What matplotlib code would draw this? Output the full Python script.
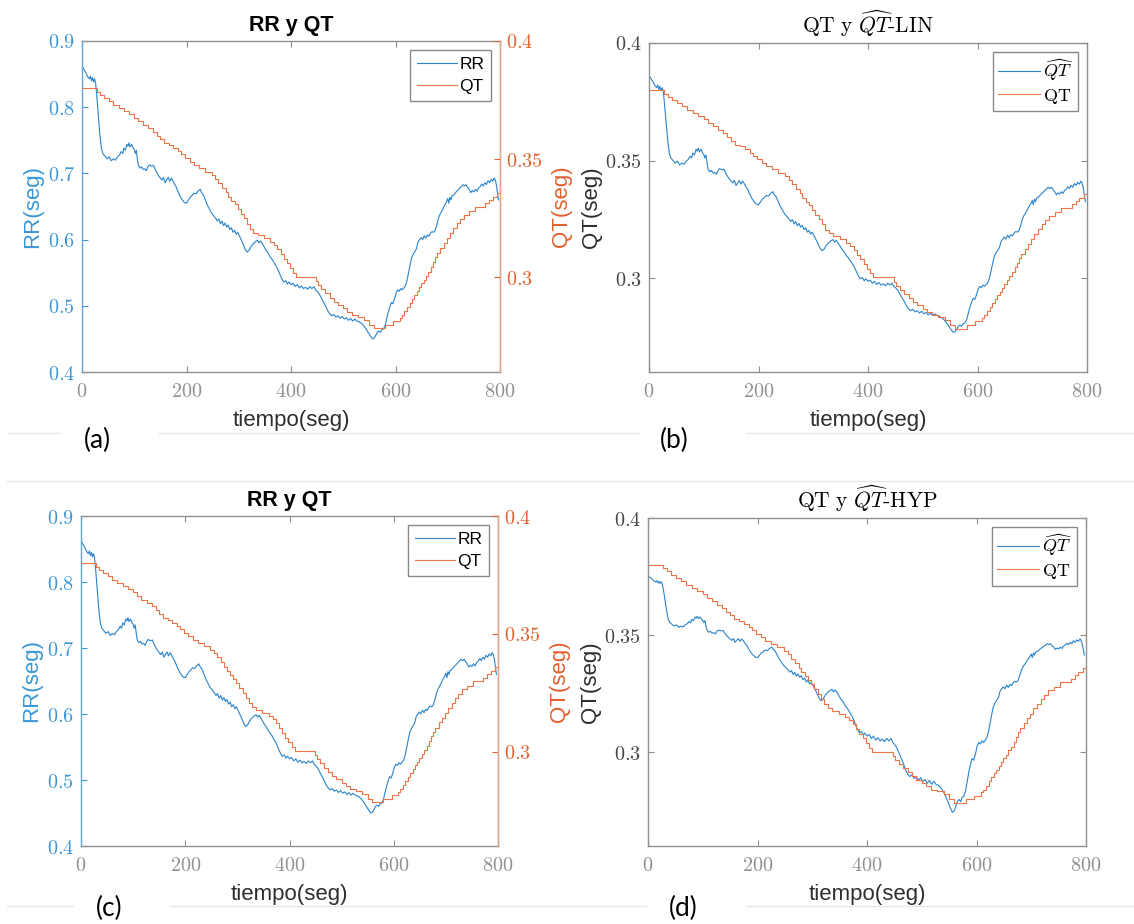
import numpy as np
import matplotlib.pyplot as plt
from matplotlib.lines import Line2D

plt.rcParams['mathtext.fontset'] = 'cm'
plt.rcParams['axes.formatter.use_mathtext'] = True

# RR interval (seg)
rr_t = [0, 4, 8, 11, 14, 16, 18, 20, 22, 24, 26, 28, 31, 34, 37, 40, 44, 48, 52, 56,
        60, 64, 68, 72, 75, 78, 80, 83, 86, 88, 90, 92, 95, 98, 100, 102, 104, 106, 108, 111,
        114, 117, 120, 123, 126, 129, 133, 137, 140, 144, 147, 150, 153, 156, 159, 162, 165, 168, 171, 174,
        177, 180, 184, 188, 192, 196, 200, 204, 207, 210, 214, 218, 222, 226, 229, 232, 236, 240, 244, 248,
        252, 256, 259, 262, 265, 268, 271, 274, 277, 280, 283, 286, 289, 292, 295, 298, 301, 304, 308, 312,
        316, 320, 324, 328, 332, 336, 339, 342, 345, 348, 352, 356, 360, 364, 367, 370, 373, 376, 380, 383,
        386, 390, 393, 396, 400, 404, 408, 412, 416, 420, 424, 428, 432, 436, 440, 444, 447, 450, 454, 458,
        462, 466, 470, 474, 478, 482, 486, 490, 494, 498, 502, 506, 510, 514, 518, 522, 526, 530, 534, 538,
        542, 546, 550, 553, 556, 559, 562, 565, 568, 571, 574, 577, 580, 583, 586, 589, 592, 595, 598, 601,
        604, 607, 610, 613, 616, 619, 622, 625, 628, 631, 634, 637, 640, 643, 646, 649, 652, 655, 658, 661,
        664, 667, 670, 673, 676, 679, 682, 685, 688, 691, 694, 697, 700, 702, 704, 706, 708, 711, 714, 717,
        720, 723, 726, 729, 732, 735, 738, 741, 744, 747, 750, 753, 756, 759, 762, 765, 768, 771, 774, 777,
        780, 783, 786, 789, 791, 793, 795, 797]
rr_v = [0.862, 0.857, 0.851, 0.846, 0.843, 0.847, 0.840, 0.845, 0.838, 0.843, 0.837, 0.820, 0.790, 0.760, 0.738, 0.730, 0.726, 0.722, 0.725, 0.719,
        0.722, 0.720, 0.725, 0.728, 0.733, 0.730, 0.738, 0.735, 0.744, 0.741, 0.746, 0.740, 0.744, 0.738, 0.736, 0.730, 0.735, 0.722, 0.712, 0.708,
        0.710, 0.706, 0.707, 0.704, 0.710, 0.713, 0.711, 0.712, 0.706, 0.700, 0.696, 0.693, 0.690, 0.694, 0.686, 0.690, 0.694, 0.688, 0.693, 0.689,
        0.684, 0.680, 0.672, 0.665, 0.660, 0.656, 0.655, 0.660, 0.664, 0.666, 0.670, 0.669, 0.673, 0.676, 0.671, 0.668, 0.660, 0.652, 0.646, 0.640,
        0.636, 0.632, 0.628, 0.631, 0.624, 0.628, 0.621, 0.625, 0.619, 0.622, 0.615, 0.618, 0.611, 0.614, 0.608, 0.611, 0.606, 0.601, 0.594, 0.586,
        0.581, 0.584, 0.590, 0.594, 0.597, 0.599, 0.595, 0.598, 0.594, 0.590, 0.584, 0.580, 0.574, 0.570, 0.566, 0.562, 0.558, 0.553, 0.545, 0.540,
        0.536, 0.538, 0.533, 0.536, 0.532, 0.534, 0.529, 0.532, 0.527, 0.530, 0.526, 0.528, 0.525, 0.529, 0.526, 0.529, 0.524, 0.522, 0.518, 0.512,
        0.506, 0.500, 0.493, 0.488, 0.485, 0.487, 0.483, 0.485, 0.481, 0.484, 0.480, 0.482, 0.478, 0.481, 0.477, 0.480, 0.477, 0.476, 0.474, 0.471,
        0.467, 0.462, 0.457, 0.453, 0.450, 0.451, 0.455, 0.460, 0.462, 0.460, 0.464, 0.465, 0.470, 0.480, 0.490, 0.498, 0.505, 0.503, 0.510, 0.519,
        0.524, 0.522, 0.526, 0.524, 0.527, 0.530, 0.538, 0.550, 0.562, 0.573, 0.578, 0.582, 0.586, 0.596, 0.600, 0.603, 0.600, 0.606, 0.602, 0.607,
        0.605, 0.610, 0.612, 0.611, 0.614, 0.622, 0.632, 0.638, 0.642, 0.647, 0.652, 0.656, 0.662, 0.655, 0.664, 0.660, 0.666, 0.667, 0.670, 0.673,
        0.675, 0.678, 0.680, 0.683, 0.681, 0.683, 0.679, 0.676, 0.671, 0.674, 0.672, 0.676, 0.673, 0.678, 0.680, 0.684, 0.681, 0.686, 0.683, 0.689,
        0.686, 0.691, 0.688, 0.693, 0.690, 0.683, 0.672, 0.660]

# QT interval (seg), staircase; each level holds until the next time
qt_t = [0, 28, 35, 42, 52, 60, 70, 80, 90, 100, 108, 116, 126, 136, 143, 150, 157, 166, 175, 184,
        190, 198, 206, 214, 224, 236, 248, 255, 261, 268, 275, 280, 286, 292, 298, 304, 310, 316, 322, 328,
        336, 348, 360, 368, 374, 380, 386, 392, 398, 404, 410, 448, 452, 458, 466, 474, 482, 490, 500, 508,
        516, 528, 540, 550, 558, 580, 596, 608, 612, 617, 622, 627, 632, 636, 641, 645, 649, 654, 658, 663,
        668, 672, 676, 680, 686, 692, 698, 704, 711, 718, 724, 731, 741, 752, 772, 779, 786, 795, 798]
qt_v = [0.3800, 0.3785, 0.3772, 0.3758, 0.3745, 0.3730, 0.3716, 0.3702, 0.3690, 0.3676, 0.3660, 0.3645, 0.3630, 0.3617, 0.3600, 0.3585, 0.3567, 0.3560, 0.3548, 0.3533,
        0.3520, 0.3505, 0.3490, 0.3476, 0.3462, 0.3448, 0.3433, 0.3418, 0.3400, 0.3380, 0.3360, 0.3342, 0.3325, 0.3310, 0.3290, 0.3270, 0.3250, 0.3228, 0.3205, 0.3190,
        0.3178, 0.3165, 0.3150, 0.3137, 0.3120, 0.3100, 0.3080, 0.3060, 0.3040, 0.3020, 0.3003, 0.2985, 0.2968, 0.2950, 0.2933, 0.2915, 0.2897, 0.2883, 0.2869, 0.2855,
        0.2841, 0.2834, 0.2820, 0.2800, 0.2785, 0.2800, 0.2815, 0.2830, 0.2841, 0.2858, 0.2876, 0.2893, 0.2910, 0.2926, 0.2942, 0.2958, 0.2975, 0.2990, 0.3008, 0.3024,
        0.3045, 0.3065, 0.3085, 0.3102, 0.3125, 0.3145, 0.3165, 0.3187, 0.3208, 0.3229, 0.3246, 0.3264, 0.3280, 0.3299, 0.3313, 0.3328, 0.3342, 0.3359, 0.3359]

# QT-RR model fits shown in (b) and (d)
LIN_A, LIN_B = 0.1576, 0.265      # QT = a + b*RR
HYP_A, HYP_B = 0.4853, -0.0949    # QT = a + b/RR

x_ticks = [0, 200, 400, 600, 800]
rr_ticks = [0.4, 0.5, 0.6, 0.7, 0.8, 0.9]
qt_ticks = [0.3, 0.35, 0.4]

rr = np.array(rr_v)
qt_hat_lin = LIN_A + LIN_B * rr
qt_hat_hyp = HYP_A + HYP_B / rr

W, H = 1134, 924
fig = plt.figure(figsize=(W / 100, H / 100), dpi=100)

BLUE = '#2a84cc'
ORANGE = '#ec7446'
BLUE_TXT = '#3a97d6'
ORANGE_TXT = '#e2602e'
DARK = '#2e2e2e'
TICK_TXT = '#444444'
SPINE = '#8f8f8f'
SANS = 'Liberation Sans'
TICK_FS = 14.5


def tex(vals):
    # latex-style tick numbers (computer modern via mathtext)
    return [f'${v:g}$' for v in vals]


def px_rect(l, r, t, b):
    return [l / W, 1 - b / H, (r - l) / W, (b - t) / H]


def set_yticks(ax, ticks, color):
    ax.set_yticks(ticks)
    ax.set_yticklabels(tex(ticks), color=color, fontsize=TICK_FS)


def base_axes(rect):
    ax = fig.add_axes(px_rect(*rect))
    ax.set_xlim(0, 800)
    ax.set_xticks(x_ticks)
    ax.set_xticklabels(tex(x_ticks), color=TICK_TXT, fontsize=TICK_FS)
    ax.tick_params(direction='in', length=4, width=0.8, top=True, colors=SPINE)
    ax.tick_params(axis='x', pad=7)
    for s in ax.spines.values():
        s.set_color(SPINE)
        s.set_linewidth(1)
    ax.set_xlabel('tiempo(seg)', fontsize=16, family=SANS, color=DARK, labelpad=7)
    return ax


def rr_qt_panel(rect):
    ax = base_axes(rect)
    ax.set_ylim(0.4, 0.9)
    set_yticks(ax, rr_ticks, BLUE_TXT)
    ax.tick_params(axis='y', colors=BLUE_TXT, pad=5)
    ax.spines['left'].set_color('#5aa8de')
    l1, = ax.plot(rr_t, rr_v, color=BLUE, lw=0.8)
    ax.set_ylabel('RR(seg)', fontsize=16, family=SANS, color=BLUE_TXT, va='center')
    ax.yaxis.set_label_coords(-0.118, 0.5)
    ax.set_title('RR y QT', fontsize=15.5, family=SANS, fontweight='bold', pad=7)

    ax2 = ax.twinx()
    ax2.set_ylim(0.26, 0.4)
    set_yticks(ax2, qt_ticks, ORANGE_TXT)
    ax2.tick_params(direction='in', length=4, width=0.8, colors=ORANGE_TXT, pad=4)
    for s in ax2.spines.values():
        s.set_visible(False)
    ax2.spines['right'].set_visible(True)
    ax2.spines['right'].set_color('#f0a07e')
    l2, = ax2.step(qt_t, qt_v, where='post', color=ORANGE, lw=0.8)
    ax2.set_ylabel('QT(seg)', fontsize=16, family=SANS, color=ORANGE_TXT, rotation=90, va='center')
    ax2.yaxis.set_label_coords(1.148, 0.5)
    leg = ax2.legend([l1, l2], ['RR', 'QT'], loc='upper right', prop={'family': SANS, 'size': 12.5},
                     fancybox=False, framealpha=1, edgecolor='#8a8a8a', handlelength=2.3,
                     borderaxespad=0.5, labelspacing=0.4, handletextpad=0.15, borderpad=0.4)
    leg.get_frame().set_linewidth(1)


def fit_panel(rect, qt_hat, name):
    ax = base_axes(rect)
    ax.set_ylim(0.26, 0.4)
    set_yticks(ax, qt_ticks, TICK_TXT)
    ax.tick_params(axis='y', right=True, pad=5)
    ax.plot(rr_t, qt_hat, color=BLUE, lw=0.8, label=r'$\widehat{QT}$')
    ax.step(qt_t, qt_v, where='post', color=ORANGE, lw=0.8, label=r'$\mathrm{QT}$')
    ax.set_ylabel('QT(seg)', fontsize=16, family=SANS, color=DARK, va='center')
    ax.yaxis.set_label_coords(-0.132, 0.5)
    ax.set_title(r'$\mathrm{QT\ y\ }\widehat{QT}\text{-' + name + '}$', fontsize=15.5, pad=7)
    leg = ax.legend(loc='upper right', prop={'size': 13},
                    fancybox=False, framealpha=1, edgecolor='#8a8a8a', handlelength=2.3,
                    borderaxespad=0.5, labelspacing=0.2, handletextpad=0.15, borderpad=0.3)
    leg.get_frame().set_linewidth(1)


rr_qt_panel((82, 500, 41, 372))
fit_panel((649, 1087, 43, 372), qt_hat_lin, 'LIN')
rr_qt_panel((81, 498, 516, 846))
fit_panel((648, 1086, 518, 846), qt_hat_hyp, 'HYP')

# panel letters
for txt, x, y in [('(a)', 97, 440), ('(b)', 674, 440), ('(c)', 109, 908), ('(d)', 683, 908)]:
    fig.text(x / W, 1 - y / H, txt, fontsize=19, family='Lato', ha='center', va='center')

# faint separators between the pasted images
for y, segs in [(433, [(8, 59), (159, 639), (747, 1134)]),
                (481, [(7, 1134)]),
                (906, [(7, 73), (170, 646), (747, 1134)])]:
    for x0, x1 in segs:
        fig.add_artist(Line2D([x0 / W, x1 / W], [1 - y / H] * 2, color='#e6e6e6', lw=1))

fig.savefig('out.png', dpi=100)
